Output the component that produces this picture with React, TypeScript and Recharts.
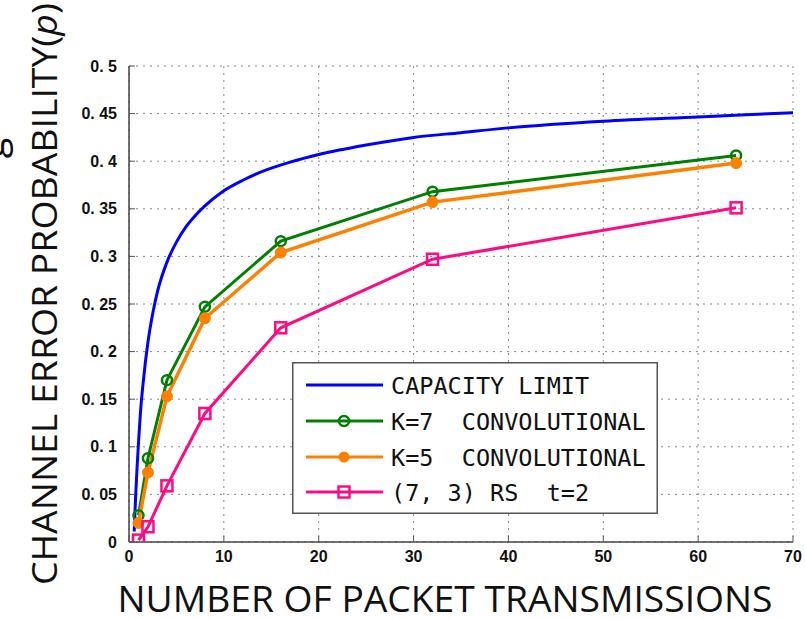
import React from 'react';
import { LineChart, Line, XAxis, YAxis, CartesianGrid, Legend, Label } from 'recharts';

const packetCounts = [1, 2, 4, 8, 16, 32, 64];
const k7Values = [0.028, 0.088, 0.17, 0.247, 0.316, 0.368, 0.406];
const k5Values = [0.02, 0.073, 0.153, 0.235, 0.304, 0.357, 0.398];
const rsValues = [0.002, 0.016, 0.059, 0.135, 0.225, 0.297, 0.351];

const capacityX = [0.55, 0.7, 0.85, 1, 1.2, 1.5, 2, 2.5, 3, 4, 5, 6, 7, 8, 10, 12, 14, 17, 20, 25, 30, 35, 40, 50, 60, 70];
const capacityValues = [0.011, 0.048, 0.078, 0.104, 0.135, 0.168, 0.21, 0.24, 0.263, 0.294, 0.315, 0.331, 0.343, 0.353, 0.369, 0.38, 0.389, 0.399, 0.407, 0.417, 0.425, 0.43, 0.435, 0.442, 0.4465, 0.451];

const xTicks = [0, 10, 20, 30, 40, 50, 60, 70];
const yTicks = [0, 0.05, 0.1, 0.15, 0.2, 0.25, 0.3, 0.35, 0.4, 0.45, 0.5];

const seriesNames = ['CAPACITY LIMIT', 'K=7  CONVOLUTIONAL', 'K=5  CONVOLUTIONAL', '(7, 3) RS  t=2'];
const seriesColors = ['#0000ff', '#008000', '#ff8000', '#ff0a84'];

const xTitle = 'NUMBER OF PACKET TRANSMISSIONS';
const yTitleMain = 'CHANNEL ERROR PROBABILITY(';
const yTitleVar = 'p';
const cutText = 'g';

const toPoints = (xs: number[], ys: number[]) => xs.map((x, i) => ({ x, y: ys[i] }));

const capacityData = toPoints(capacityX, capacityValues);
const k7Data = toPoints(packetCounts, k7Values);
const k5Data = toPoints(packetCounts, k5Values);
const rsData = toPoints(packetCounts, rsValues);

const fmtY = (v: number) => (v === 0 ? '0' : '0. ' + String(v).slice(2));

const tickFont = { fontFamily: 'Liberation Sans, Arial, sans-serif', fontSize: 16, fontWeight: 'bold' as const, fill: '#111' };
const frameColor = '#444';

const XTick = (p: any) => (
  <g>
    <line x1={p.x} x2={p.x} y1={p.y - 9} y2={p.y - 15} stroke="#555" strokeWidth={1} />
    <text x={p.x} y={p.y} dy="0.71em" textAnchor="middle" {...tickFont}>
      {p.payload.value}
    </text>
  </g>
);

const YTick = (p: any) => (
  <g>
    <line x1={p.x + 12} x2={p.x + 18} y1={p.y} y2={p.y} stroke="#555" strokeWidth={1} />
    <text x={p.x} y={p.y} dy="0.355em" textAnchor="end" {...tickFont}>
      {fmtY(p.payload.value)}
    </text>
  </g>
);

const CircleDot = (p: any) => (
  <circle key={`c${p.index}`} cx={p.cx} cy={p.cy} r={5} fill="none" stroke={seriesColors[1]} strokeWidth={2.5} />
);
const FilledDot = (p: any) => (
  <circle key={`f${p.index}`} cx={p.cx} cy={p.cy} r={5.5} fill={seriesColors[2]} stroke={seriesColors[2]} strokeWidth={1} />
);
const SquareDot = (p: any) => (
  <rect key={`s${p.index}`} x={p.cx - 5.5} y={p.cy - 5.5} width={11} height={11} fill="none" stroke={seriesColors[3]} strokeWidth={2.5} />
);

const LegendBox = () => {
  const rows = [23, 59, 95, 130];
  return (
    <svg width={366} height={152} style={{ display: 'block' }}>
      <rect x={0.75} y={0.75} width={364.5} height={150.5} fill="#fff" stroke="#555" strokeWidth={1.5} />
      {seriesNames.map((name, i) => {
        const cy = rows[i];
        const c = seriesColors[i];
        return (
          <g key={name}>
            <line x1={14} x2={91} y1={cy} y2={cy} stroke={c} strokeWidth={3} />
            {i === 1 && <circle cx={52} cy={cy} r={5} fill="none" stroke={c} strokeWidth={2.5} />}
            {i === 2 && <circle cx={52} cy={cy} r={5.5} fill={c} />}
            {i === 3 && <rect x={46.5} y={cy - 5.5} width={11} height={11} fill="none" stroke={c} strokeWidth={2.5} />}
            <text x={99} y={cy + 8.5} fontFamily="DejaVu Sans Mono, monospace" fontSize={23.5} fill="#111" style={{ whiteSpace: 'pre' }} xmlSpace="preserve">
              {name}
            </text>
          </g>
        );
      })}
    </svg>
  );
};

const YTitle = () => {
  const cx = 57;
  const cy = 294;
  return (
    <text
      x={cx}
      y={cy}
      transform={`rotate(-90 ${cx} ${cy})`}
      textAnchor="middle"
      fontFamily="Open Sans, sans-serif"
      fontSize={35}
      fill="#111"
      textLength={582}
      lengthAdjust="spacingAndGlyphs"
    >
      {yTitleMain}
      <tspan fontStyle="italic">{yTitleVar}</tspan>)
    </text>
  );
};

const XTitle = () => (
  <text
    x={445}
    y={612}
    textAnchor="middle"
    fontFamily="Open Sans, sans-serif"
    fontSize={36}
    fill="#111"
    textLength={655}
    lengthAdjust="spacingAndGlyphs"
  >
    {xTitle}
  </text>
);

export default function App() {
  return (
    <div style={{ position: 'absolute', left: 0, top: 0, width: 805, height: 619, background: '#fff' }}>
      <svg width={30} height={619} style={{ position: 'absolute', left: 0, top: 0 }}>
        <text x={4} y={148} transform="rotate(-90 4 148)" textAnchor="middle" fontFamily="Open Sans, sans-serif" fontSize={38} fill="#111">{cutText}</text>
      </svg>
      <LineChart width={805} height={619} margin={{ top: 66, right: 12, bottom: 52, left: 79 }}>
        <CartesianGrid stroke="#888" strokeDasharray="2 5" strokeWidth={1} />
        <XAxis
          dataKey="x"
          type="number"
          domain={[0, 70]}
          ticks={xTicks}
          allowDataOverflow
          height={25}
          tickLine={false}
          tickSize={6}
          tickMargin={3}
          tick={<XTick />}
          axisLine={{ stroke: frameColor, strokeWidth: 1.5 }}
        >
          <Label content={<XTitle />} />
        </XAxis>
        <XAxis xAxisId="top" orientation="top" type="number" domain={[0, 70]} height={0} tick={false} tickLine={false} axisLine={{ stroke: frameColor, strokeWidth: 1.5 }} />
        <YAxis
          type="number"
          domain={[0, 0.5]}
          ticks={yTicks}
          allowDataOverflow
          width={50}
          tickLine={false}
          tickSize={6}
          tickMargin={6}
          tick={<YTick />}
          axisLine={{ stroke: frameColor, strokeWidth: 1.5 }}
        >
          <Label content={<YTitle />} />
        </YAxis>
        <YAxis yAxisId="right" orientation="right" type="number" domain={[0, 0.5]} width={0} tick={false} tickLine={false} axisLine={{ stroke: frameColor, strokeWidth: 1.5 }} />
        <Line data={capacityData} dataKey="y" type="monotone" stroke={seriesColors[0]} strokeWidth={3} dot={false} isAnimationActive={false} name={seriesNames[0]} />
        <Line data={k7Data} dataKey="y" type="linear" stroke={seriesColors[1]} strokeWidth={3} dot={CircleDot} isAnimationActive={false} name={seriesNames[1]} />
        <Line data={k5Data} dataKey="y" type="linear" stroke={seriesColors[2]} strokeWidth={3.5} dot={FilledDot} isAnimationActive={false} name={seriesNames[2]} />
        <Line data={rsData} dataKey="y" type="linear" stroke={seriesColors[3]} strokeWidth={3} dot={SquareDot} isAnimationActive={false} name={seriesNames[3]} />
        <Legend
          layout="vertical"
          align="center"
          verticalAlign="middle"
          wrapperStyle={{ left: 292, top: 362, width: 366, height: 152 }}
          content={() => <LegendBox />}
        />
      </LineChart>
    </div>
  );
}
